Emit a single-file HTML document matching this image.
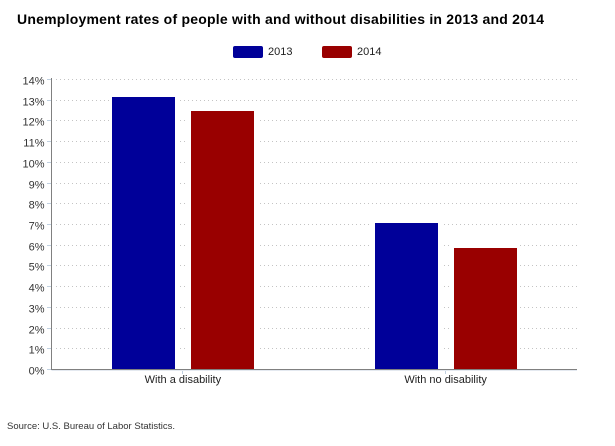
<!DOCTYPE html>
<html>
<head>
<meta charset="utf-8">
<style>
html,body{margin:0;padding:0;background:#fff;width:615px;height:446px;overflow:hidden}
svg{display:block;font-family:"Liberation Sans",sans-serif}
</style>
</head>
<body>
<svg id="chart" xmlns="http://www.w3.org/2000/svg" width="615" height="446" viewBox="0 0 615 446">
<text x="17" y="24" font-size="14" font-weight="bold" fill="#000" textLength="527" lengthAdjust="spacing">Unemployment rates of people with and without disabilities in 2013 and 2014</text>
<g>
<g>
<rect x="233" y="46" width="30" height="12" rx="2" fill="#000099"/>
<text x="268" y="55" font-size="11" fill="#222">2013</text>
</g>
<g>
<rect x="322" y="46" width="30" height="12" rx="2" fill="#990000"/>
<text x="357" y="55" font-size="11" fill="#222">2014</text>
</g>
</g>
<g id="grid"></g>
<g id="bars"></g>
<g id="axes"></g>
<text x="7" y="429" font-size="9.5" fill="#333" textLength="168" lengthAdjust="spacing">Source: U.S. Bureau of Labor Statistics.</text>
</svg>
<script>
const categories = ["With a disability", "With no disability"];
const values2013 = [13.13, 7.05];
const values2014 = [12.45, 5.84];
const yTicks = [0, 1, 2, 3, 4, 5, 6, 7, 8, 9, 10, 11, 12, 13, 14];
const NS = "http://www.w3.org/2000/svg";
const plot = {left: 51.5, right: 577, top: 78.9, bottom: 369};
const barW = 63, barGap = 16;
function yScale(v) {
  return plot.bottom - (v - yTicks[0]) / (yTicks[yTicks.length - 1] - yTicks[0]) * (plot.bottom - plot.top);
}
function catCenter(i) {
  return plot.left + (i + 0.5) * (plot.right - plot.left) / categories.length;
}
function make(tag, attrs, parent) {
  const el = document.createElementNS(NS, tag);
  for (const k in attrs) el.setAttribute(k, attrs[k]);
  parent.appendChild(el);
  return el;
}
const grid = document.getElementById("grid");
const bars = document.getElementById("bars");
const axes = document.getElementById("axes");
yTicks.forEach(function (t) {
  const y = Math.round(yScale(t)) + 0.5;
  if (t > 0) {
    const g = make("line", {x1: 56, x2: plot.right, y1: y, y2: y, stroke: "#c4c4c4", "stroke-width": 1, "stroke-dasharray": "1 3"}, grid);
    
    
  }
  const tick = make("line", {x1: 47, x2: 52, y1: y, y2: y, stroke: "#c0d0e0", "stroke-width": 1}, axes);
  
  
  const lab = make("text", {x: 44.5, y: y + 5, "text-anchor": "end", "font-size": 11, fill: "#333"}, axes);
  
  
  lab.textContent = t + "%";
});
categories.forEach(function (c, i) {
  const cx = catCenter(i);
  const series = [
    {v: values2013[i], x: cx - barGap / 2 - barW, fill: "#000099"},
    {v: values2014[i], x: cx + barGap / 2, fill: "#990000"}
  ];
  series.forEach(function (s) {
    const top = Math.round(yScale(s.v));
    const halo = make("rect", {x: Math.round(s.x) - 3, y: top - 3, width: barW + 6, height: plot.bottom - top + 3, fill: "#fff"}, bars);
    
    
    const r = make("rect", {x: Math.round(s.x), y: top, width: barW, height: plot.bottom - top, fill: s.fill}, bars);
    
    
  });
  const tick = make("line", {x1: Math.round(cx) - 0.5, x2: Math.round(cx) - 0.5, y1: plot.bottom + 1, y2: plot.bottom + 5, stroke: "#c0d0e0", "stroke-width": 1}, axes);
  
  
  const lab = make("text", {x: cx, y: 383, "text-anchor": "middle", "font-size": 11, fill: "#222"}, axes);
  
  
  lab.textContent = c;
});
const yAxis = make("line", {x1: plot.left, x2: plot.left, y1: 78, y2: plot.bottom + 1, stroke: "#808080", "stroke-width": 1}, axes);


const xAxis = make("line", {x1: plot.left, x2: plot.right, y1: plot.bottom + 0.5, y2: plot.bottom + 0.5, stroke: "#808080", "stroke-width": 1}, axes);


const xAxisShade = make("line", {x1: plot.left, x2: plot.right, y1: plot.bottom + 1.5, y2: plot.bottom + 1.5, stroke: "#e4e9f0", "stroke-width": 1}, axes);


</script>
</body>
</html>
